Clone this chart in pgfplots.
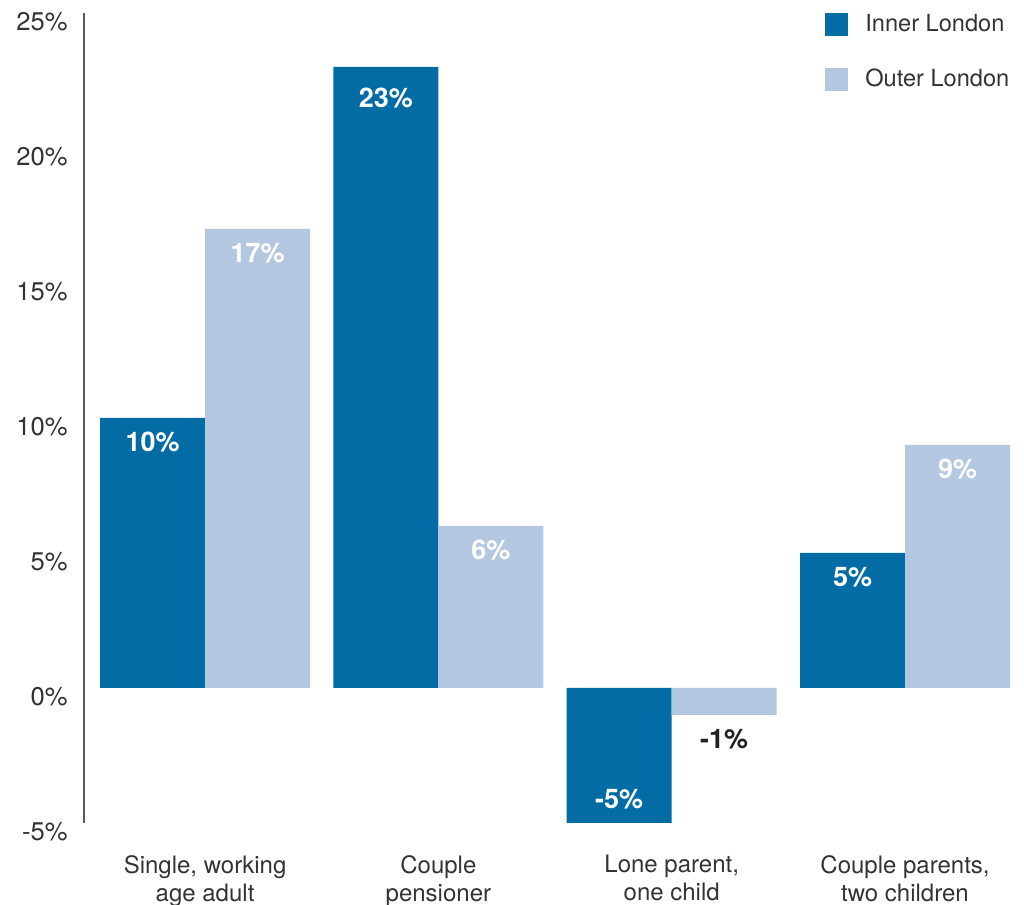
\documentclass[border=0pt]{standalone}
\usepackage{pgfplots}
\pgfplotsset{compat=1.18}
\usepackage{fontspec}
\setmainfont{TeX Gyre Heros}
\definecolor{inner}{HTML}{036CA5}
\definecolor{outer}{HTML}{B3C8E0}
\definecolor{txt}{HTML}{333333}
\definecolor{lbldark}{HTML}{222222}
\definecolor{axisgray}{HTML}{5A5A5A}

\begin{document}
\begin{tikzpicture}
\path[use as bounding box] (-42pt,-41pt) rectangle (470pt,411.5pt);
\begin{axis}[
 at={(0,0)}, anchor=south west,
 scale only axis, width=463pt, height=405pt,
 xmin=-0.519, xmax=3.45, ymin=-5, ymax=25,
 clip=false,
 ybar=0pt, bar width=52.5pt,
 separate axis lines,
 axis y line*=left, axis x line*=bottom,
 x axis line style={draw=none},
 y axis line style={draw=axisgray, line width=1pt, -},
 major tick length=0pt,
 ytick={-5,0,...,25},
 yticklabel={\pgfmathprintnumber{\tick}\%},
 /pgf/number format/assume math mode=true,
 yticklabel style={anchor=east, inner sep=0pt, xshift=-8pt, yshift=-4.5pt, font=\fontsize{12.8}{14}\selectfont, text=txt},
 xtick={0,1,2,3},
 xticklabels={{Single, working\\age adult},{Couple\\pensioner},{Lone parent,\\one child},{Couple parents,\\two children}},
 xticklabel style={align=center, anchor=north, inner sep=0pt, yshift=-16pt, font=\fontsize{12}{14}\selectfont, text=txt},
 point meta=explicit symbolic,
 nodes near coords,
 every node near coord/.append style={anchor=base, inner sep=0pt, text=white, yshift=-16.8pt, font=\bfseries\fontsize{13.5}{14}\selectfont},
 legend style={at={(0.8002,1.004)}, anchor=north west, draw=none, fill=none, inner sep=0pt, row sep=13.2pt, font=\fontsize{11.8}{14}\selectfont, text=txt, /tikz/every odd column/.append style={column sep=6.5pt}},
 legend cell align=left,
 legend image code/.code={\fill[#1] (0pt,-5.75pt) rectangle (11.5pt,5.75pt);},
]
\addplot[fill=inner, draw=none] coordinates {
 (0,10) [10\%]
 (1,23) [\raisebox{-3.5pt}{23\%}]
 (2,-5) [\raisebox{23.8pt}{-5\%}]
 (3,5) [5\%]
};
\addplot[fill=outer, draw=none] coordinates {
 (0,17) [17\%]
 (1,6) [6\%]
 (2,-1) [\textcolor{lbldark}{-1\%}]
 (3,9) [9\%]
};
\legend{Inner London, Outer London}
\end{axis}
\end{tikzpicture}
\end{document}
